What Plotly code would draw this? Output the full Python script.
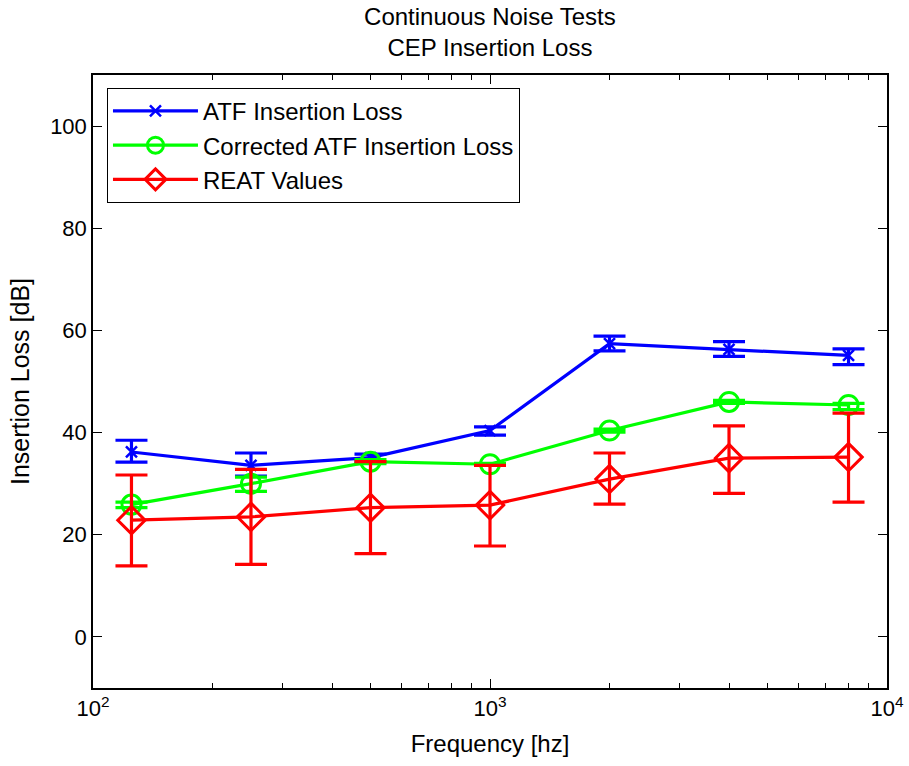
import plotly.graph_objects as go

freq = [125, 250, 500, 1000, 2000, 4000, 8000]

atf = [36.2, 33.6, 35.1, 40.4, 57.4, 56.3, 55.1]
atf_hi = [2.3, 2.4, 0.7, 0.7, 1.5, 1.5, 1.3]
atf_lo = [2.0, 2.1, 0.9, 0.9, 1.4, 1.4, 1.8]

corr = [25.9, 30.0, 34.3, 33.8, 40.4, 46.0, 45.4]
corr_hi = [0.5, 1.3, 0.4, 0.2, 0.3, 0.3, 0.3]
corr_lo = [0.6, 1.5, 0.4, 0.2, 0.3, 0.3, 0.9]

reat = [22.85, 23.5, 25.3, 25.8, 30.9, 35.0, 35.2]
reat_hi = [8.85, 9.3, 9.0, 7.8, 5.1, 6.3, 8.6]
reat_lo = [8.95, 9.3, 9.0, 8.0, 4.9, 6.9, 8.8]

names = ["ATF Insertion Loss", "Corrected ATF Insertion Loss", "REAT Values"]
xtickvals = [100, 1000, 10000]
xticktext = ["10<sup>2</sup>", "10<sup>3</sup>", "10<sup>4</sup>"]
yticks = [0, 20, 40, 60, 80, 100]

font = "Liberation Sans"

fig = go.Figure()

def add(y, hi, lo, name, color, symbol, msize, mlw):
    fig.add_trace(go.Scatter(
        x=freq, y=y, name=name, mode="lines+markers",
        line=dict(color=color, width=3.2),
        marker=dict(symbol=symbol, size=msize, color=color,
                    line=dict(color=color, width=mlw)),
        error_y=dict(type="data", symmetric=False, array=hi, arrayminus=lo,
                     color=color, thickness=3.2, width=16),
    ))

add(atf, atf_hi, atf_lo, names[0], "#0000ff", "x-thin-open", 11, 2.5)
add(corr, corr_hi, corr_lo, names[1], "#00ff00", "circle-open", 19, 3)
add(reat, reat_hi, reat_lo, names[2], "#ff0000", "diamond-open", 21, 3)

fig.update_layout(
    width=909, height=766,
    paper_bgcolor="white", plot_bgcolor="white",
    margin=dict(l=93, r=22, t=75, b=78, autoexpand=False),
    font=dict(family=font, size=21, color="black"),
    title=dict(text="Continuous Noise Tests<br>CEP Insertion Loss",
               x=0.539, xanchor="center", y=0.9675, yanchor="top",
               font=dict(family=font, size=24, color="black")),
    showlegend=True,
    legend=dict(x=0.0176, y=0.979, xanchor="left", yanchor="top",
                bordercolor="black", borderwidth=1, bgcolor="white",
                font=dict(family=font, size=24), itemwidth=85,
                tracegroupgap=0),
)

fig.update_xaxes(
    type="log", range=[2, 4], tickvals=xtickvals, ticktext=xticktext,
    ticks="inside", ticklen=9, tickcolor="black", mirror="ticks",
    showline=True, linecolor="black", linewidth=1.5, showgrid=False,
    zeroline=False, automargin=False,
    minor=dict(ticks="inside", ticklen=5, tickcolor="black", showgrid=False,
               tickvals=[200, 300, 400, 500, 600, 700, 800, 900,
                         2000, 3000, 4000, 5000, 6000, 7000, 8000, 9000]),
    tickfont=dict(size=22),
    title=dict(text="Frequency [hz]", font=dict(size=24), standoff=15),
)
fig.update_yaxes(
    range=[-10, 110], tickvals=yticks,
    ticks="inside", ticklen=9, tickcolor="black", mirror="ticks",
    showline=True, linecolor="black", linewidth=1.5, showgrid=False,
    zeroline=False, automargin=False, tickfont=dict(size=22),
    title=dict(text="Insertion Loss [dB]", font=dict(size=25), standoff=13),
)

fig.write_html("out.html", config={"displayModeBar": False},
               post_script="document.body.style.margin='0';document.body.style.overflow='hidden';")
